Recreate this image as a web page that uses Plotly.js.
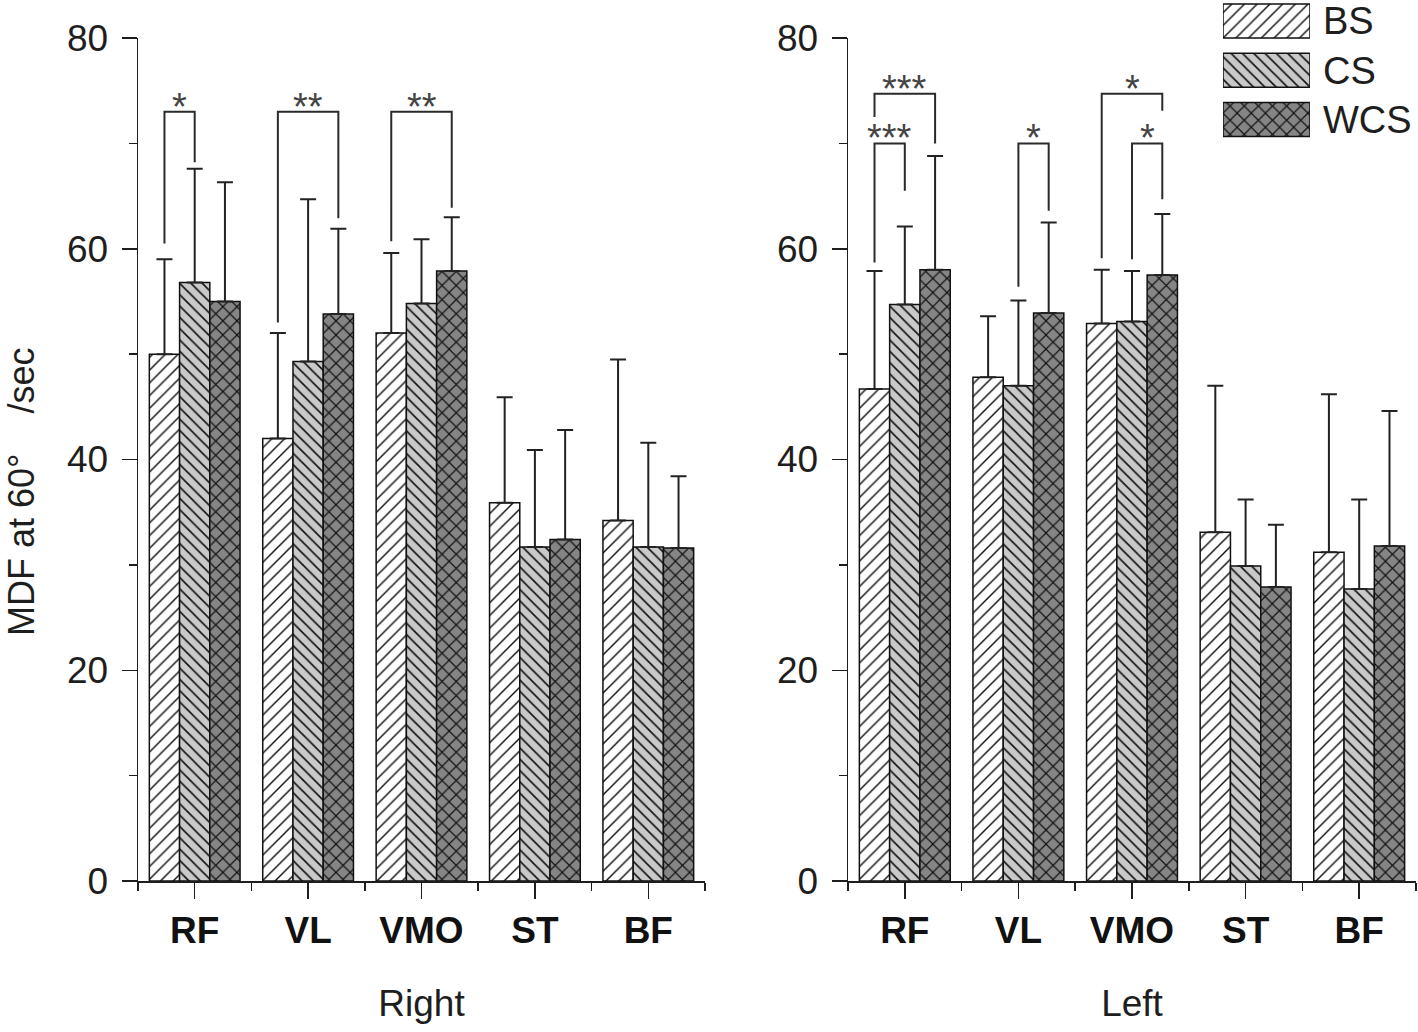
<!DOCTYPE html>
<html><head><meta charset="utf-8">
<script src="https://cdn.plot.ly/plotly-3.0.1.min.js"></script>
<style>html,body{margin:0;padding:0;background:#fff}</style>
</head><body><div id="chart" style="width:1418px;height:1032px"></div>
<script>
// ---------- data ----------
const categories = ['RF', 'VL', 'VMO', 'ST', 'BF'];
const seriesNames = ['BS', 'CS', 'WCS'];
const panelTitles = ['Right', 'Left'];
const yTitle = 'MDF at 60\u00b0\u00a0\u00a0\u00a0\u00a0/sec';
const yTickVals = [0, 20, 40, 60, 80];

// Right side (left panel): means and upper error (SD)
const rightBS = [50.0, 42.0, 52.0, 35.9, 34.2];
const rightCS = [56.8, 49.3, 54.8, 31.7, 31.7];
const rightWCS = [55.0, 53.8, 57.9, 32.4, 31.6];
const rightBSerr = [9.0, 10.0, 7.6, 10.0, 15.3];
const rightCSerr = [10.8, 15.4, 6.1, 9.2, 9.9];
const rightWCSerr = [11.3, 8.1, 5.1, 10.4, 6.8];

// Left side (right panel)
const leftBS = [46.7, 47.8, 52.9, 33.1, 31.2];
const leftCS = [54.7, 47.0, 53.1, 29.9, 27.7];
const leftWCS = [58.0, 53.9, 57.5, 27.9, 31.8];
const leftBSerr = [11.2, 5.8, 5.1, 13.9, 15.0];
const leftCSerr = [7.4, 8.1, 4.8, 6.3, 8.5];
const leftWCSerr = [10.8, 8.6, 5.8, 5.9, 12.8];

// significance brackets: [category, fromSeries, toSeries, bracketTop, fromLegEnd, toLegEnd, label]
const rightSig = [
  ['RF', 'BS', 'CS', 73.0, 60.5, 68.2, '*'],
  ['VL', 'BS', 'WCS', 73.0, 53.0, 62.9, '**'],
  ['VMO', 'BS', 'WCS', 73.0, 60.7, 63.9, '**']
];
const leftSig = [
  ['RF', 'BS', 'WCS', 74.7, 72.5, 70.0, '***'],
  ['RF', 'BS', 'CS', 70.0, 58.7, 65.5, '***'],
  ['VL', 'CS', 'WCS', 70.0, 56.4, 63.6, '*'],
  ['VMO', 'BS', 'WCS', 74.7, 59.1, 73.1, '*'],
  ['VMO', 'CS', 'WCS', 70.0, 59.0, 64.7, '*']
];

// ---------- styles ----------
const FONT = 'Liberation Sans, Arial, Helvetica, sans-serif';
const INK = '#1e1e1e';
const BARGAP = 0.2;
const styles = {
  BS:  {color: '#ffffff', shape: '/',  size: 9,  solidity: 0.16},
  CS:  {color: '#c9c9c9', shape: '\\', size: 8,  solidity: 0.2},
  WCS: {color: '#858585', shape: 'x',  size: 10, solidity: 0.22}
};
function markerFor(s) {
  const st = styles[s];
  return {color: st.color, line: {color: '#111', width: 1.5},
          pattern: {shape: st.shape, fgcolor: '#111', bgcolor: st.color, size: st.size, solidity: st.solidity}};
}

const idx = categories.map((c, i) => i);
const panels = [
  {xa: 'x',  ya: 'y',  means: [rightBS, rightCS, rightWCS], errs: [rightBSerr, rightCSerr, rightWCSerr], sig: rightSig},
  {xa: 'x2', ya: 'y2', means: [leftBS, leftCS, leftWCS], errs: [leftBSerr, leftCSerr, leftWCSerr], sig: leftSig}
];

const traces = [];
const shapes = [];
const annotations = [];
const barOffset = k => (k - 1) * (1 - BARGAP) / 3;

panels.forEach(p => {
  seriesNames.forEach((s, k) => {
    traces.push({
      type: 'bar', name: s, x: idx, y: p.means[k], xaxis: p.xa, yaxis: p.ya,
      showlegend: false, hoverinfo: 'skip', marker: markerFor(s),
      error_y: {type: 'data', symmetric: false, array: p.errs[k], arrayminus: p.means[k].map(() => 0),
                color: '#222', thickness: 2, width: 8}
    });
  });
  p.sig.forEach(([cat, from, to, top, e1, e2, label]) => {
    const ci = categories.indexOf(cat);
    const x1 = ci + barOffset(seriesNames.indexOf(from));
    const x2 = ci + barOffset(seriesNames.indexOf(to));
    shapes.push({type: 'path', xref: p.xa, yref: p.ya,
      path: `M ${x1},${e1} L ${x1},${top} L ${x2},${top} L ${x2},${e2}`,
      line: {color: '#2a2a2a', width: 2}});
    annotations.push({xref: p.xa, yref: p.ya, x: (x1 + x2) / 2, y: top, text: label,
      showarrow: false, yanchor: 'middle', yshift: 5,
      font: {family: FONT, size: 38, color: '#444'}});
  });
});

// legend drawn as a small bar axis, one trace per series sharing one slot
seriesNames.forEach(s => {
  traces.push({
    type: 'bar', orientation: 'h', y: [s], x: [1], offsetgroup: 'legend',
    xaxis: 'x3', yaxis: 'y3', width: 0.69, showlegend: false, hoverinfo: 'skip',
    marker: markerFor(s)
  });
});

annotations.push({xref: 'paper', yref: 'paper', x: 21 / 1418, y: (881 - 492) / 881, text: yTitle,
  textangle: -90, showarrow: false, xanchor: 'center', yanchor: 'middle',
  font: {family: FONT, size: 36, color: INK}});

const W = 1418;
const yDomTop = 843 / 881;
function yAxis(anchor) {
  return {domain: [0, yDomTop], anchor: anchor, range: [0, 80], tickmode: 'array', tickvals: yTickVals,
    ticks: 'outside', ticklen: 15, tickwidth: 1.5, tickcolor: INK, showline: true, linecolor: INK, linewidth: 1.5,
    showgrid: false, zeroline: false, fixedrange: true,
    minor: {tickmode: 'linear', tick0: 0, dtick: 10, ticks: 'outside', ticklen: 8, tickwidth: 1.5, tickcolor: INK, showgrid: false},
    tickfont: {family: FONT, size: 37, color: INK}, ticklabelstandoff: 6};
}
function xAxis(dom, anchor, title) {
  return {domain: dom, anchor: anchor, range: [-0.5, categories.length - 0.5], tickmode: 'array',
    tickvals: idx, ticktext: categories, ticks: 'outside', ticklen: 16, tickwidth: 1.5, tickcolor: INK,
    showline: true, linecolor: INK, linewidth: 1.5, showgrid: false, zeroline: false, fixedrange: true,
    minor: {tickmode: 'array', tickvals: categories.concat(['']).map((c, i) => i - 0.5), ticks: 'outside', ticklen: 8, tickwidth: 1.5, tickcolor: INK, showgrid: false},
    tickfont: {family: FONT, size: 37, color: '#111', weight: 'bold'},
    title: {text: title, font: {family: FONT, size: 37, color: INK}, standoff: 40}};
}

const layout = {
  width: W, height: 1032, margin: {l: 0, r: 0, t: 0, b: 151},
  paper_bgcolor: '#fff', plot_bgcolor: 'rgba(0,0,0,0)',
  barmode: 'group', bargap: BARGAP, bargroupgap: 0, showlegend: false,
  xaxis: xAxis([138 / W, 705 / W], 'y', panelTitles[0]),
  yaxis: yAxis('x'),
  xaxis2: xAxis([848 / W, 1416 / W], 'y2', panelTitles[1]),
  yaxis2: yAxis('x2'),
  xaxis3: {domain: [1223 / W, 1310 / W], anchor: 'y3', range: [0, 1], visible: false, fixedrange: true},
  yaxis3: {domain: [1 - 150 / 881, 1], anchor: 'x3', type: 'category', categoryarray: seriesNames,
    range: [2.619, -0.426], side: 'right',
    showline: false, ticks: '', showgrid: false, zeroline: false, fixedrange: true, ticklabelstandoff: 12,
    tickfont: {family: FONT, size: 38, color: INK}},
  shapes: shapes, annotations: annotations
};

Plotly.newPlot('chart', traces, layout, {staticPlot: true, displayModeBar: false});
</script></body></html>
